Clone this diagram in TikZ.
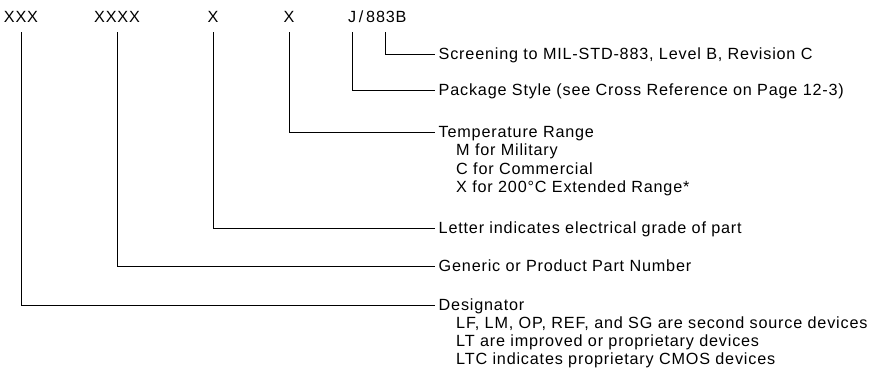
\documentclass[tikz,border=0pt]{standalone}
\usepackage{fontspec}
\setmainfont{Liberation Sans}[LetterSpace=5]
\newcommand{\lblfont}{\fontsize{16.2}{18}\selectfont}
\begin{document}
\begin{tikzpicture}[x=1pt,y=-1pt,
  lbl/.style={anchor=west,inner xsep=3.5pt,inner ysep=0pt,text height=11pt,text depth=0pt,font=\lblfont},
  sub/.style={anchor=base west,inner sep=0pt,font=\lblfont},
  top/.style={anchor=base,inner sep=0pt,font=\lblfont},
  wire/.style={line width=0.9pt}]
\useasboundingbox (0,0) rectangle (877,373);
% top code letters
\node[top] (t1) at (21,22) {XXX};
\node[top] (t2) at (117,22) {XXXX};
\node[top] (t3) at (213,22) {X};
\node[top] (t4) at (289,22) {X};
\node[top,anchor=base west] (t5) at (348,22) {J\,/\,883B};
% line starts
\coordinate (c1) at (21,32);
\coordinate (c2) at (117,32);
\coordinate (c3) at (213,32);
\coordinate (c4) at (289,32);
\coordinate (c5) at (352.5,32);
\coordinate (c6) at (385.5,32);
% descriptions
\node[lbl] (scr) at (435,54) {Screening to MIL-STD-883, Level B, Revision C};
\node[lbl] (pkg) at (435,90) {Package Style (see Cross Reference on Page 12-3)};
\node[lbl] (tmp) at (435,132) {Temperature Range};
\node[sub] (tm) at (456,155.5) {M for Military};
\node[sub] (tc) at (456,174) {C for Commercial};
\node[sub] (tx) at (456,192.5) {X for 200°C Extended Range*};
\node[lbl] (let) at (435,228) {Letter indicates electrical grade of part};
\node[lbl] (gen) at (435,266) {Generic or Product Part Number};
\node[lbl] (des) at (435,305) {Designator};
\node[sub] (d1) at (456,328) {LF, LM, OP, REF, and SG are second source devices};
\node[sub] (d2) at (456,346) {LT are improved or proprietary devices};
\node[sub] (d3) at (456,364) {LTC indicates proprietary CMOS devices};
% connectors
\draw[wire] (c6) |- (scr.west);
\draw[wire] (c5) |- (pkg.west);
\draw[wire] (c4) |- (tmp.west);
\draw[wire] (c3) |- (let.west);
\draw[wire] (c2) |- (gen.west);
\draw[wire] (c1) |- (des.west);
\end{tikzpicture}
\end{document}
